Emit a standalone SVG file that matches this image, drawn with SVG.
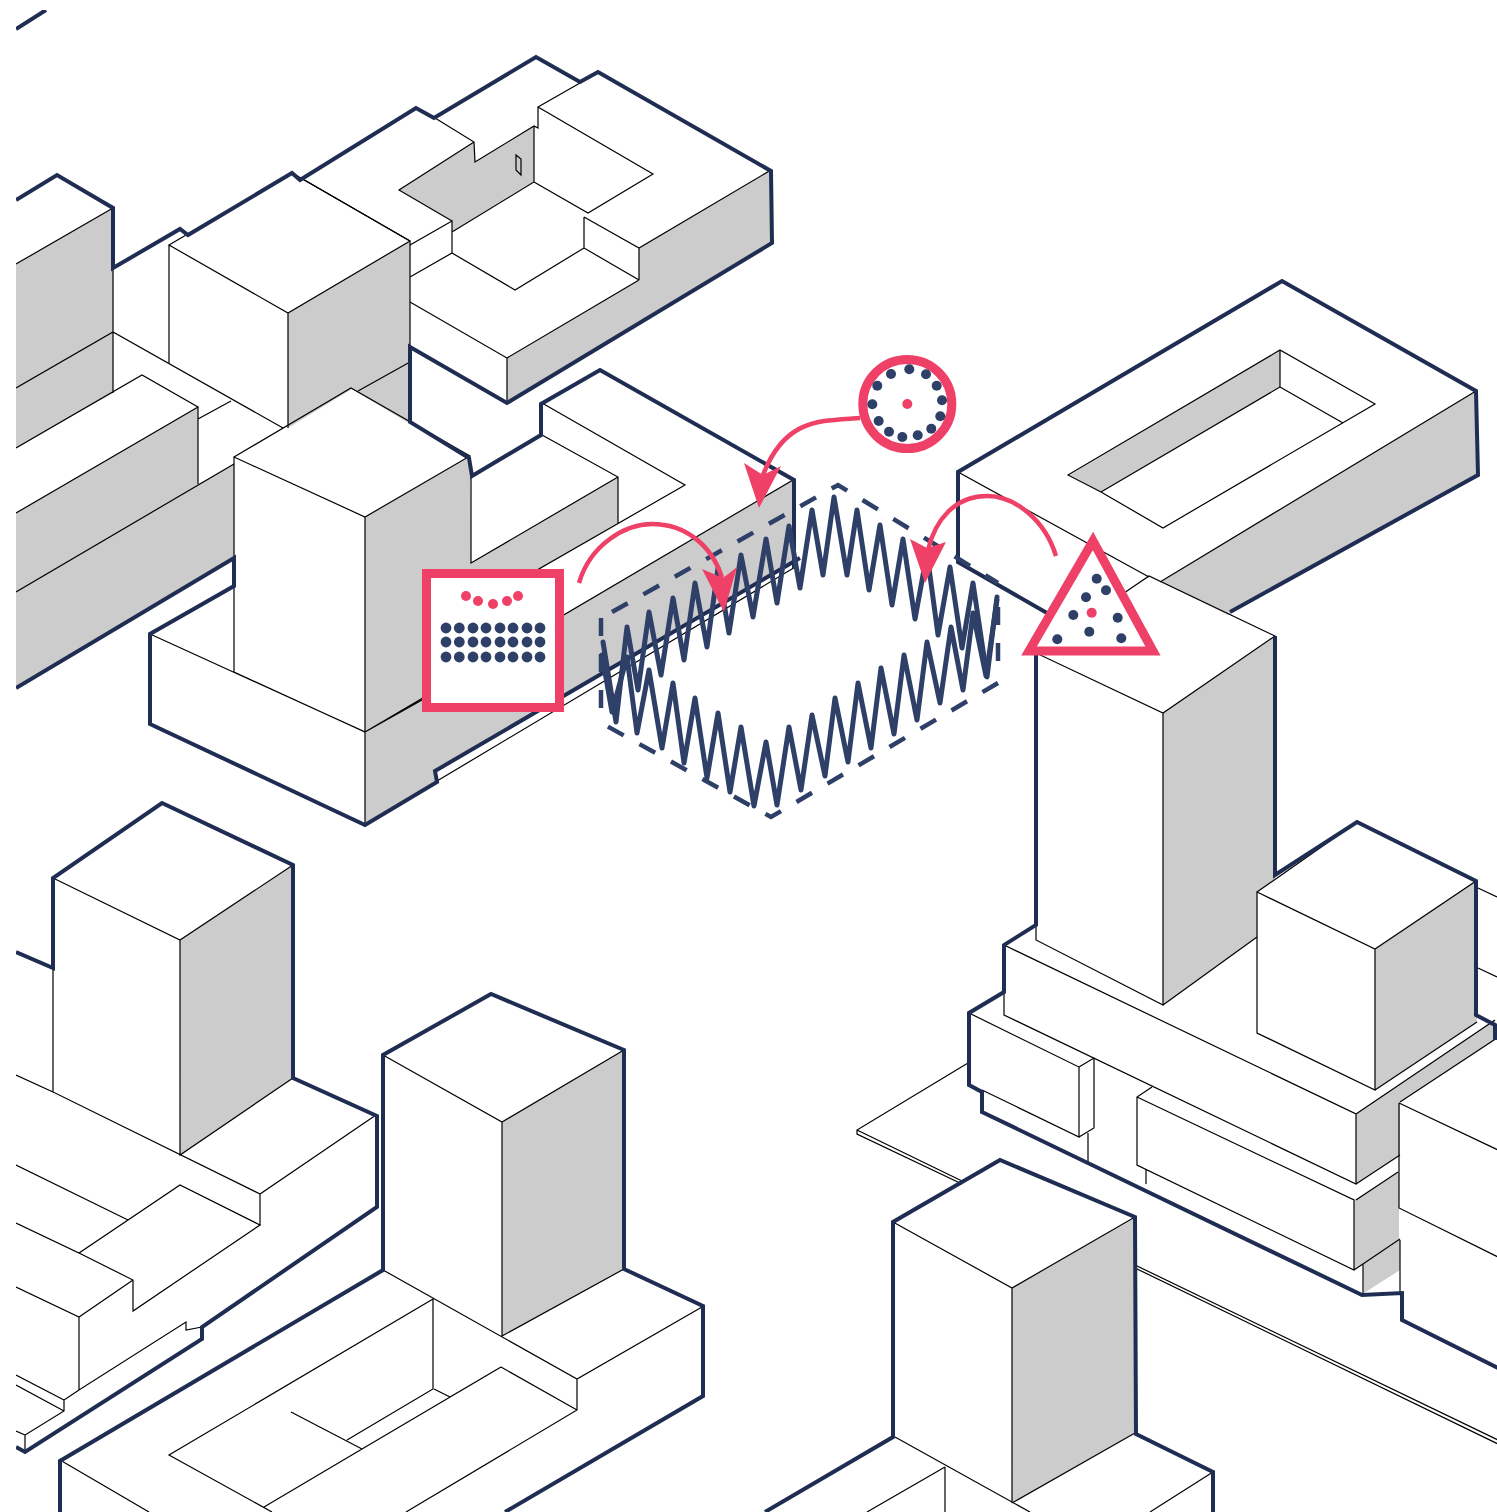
<svg xmlns="http://www.w3.org/2000/svg" width="1497" height="1512" viewBox="0 0 1497 1512">
<style>
.g{fill:#cccccc;stroke:none}
.w{fill:#fff;stroke:none}
.t{fill:none;stroke:#000;stroke-width:1.2;stroke-linejoin:miter}
.n{fill:none;stroke:#1f2d52;stroke-width:4;stroke-linejoin:miter}
.wave{fill:none;stroke:#2e3f68;stroke-width:5;stroke-linejoin:round;stroke-linecap:round}
.dash{fill:none;stroke:#2e3f68;stroke-width:4.5;stroke-dasharray:18 18}
.r{fill:none;stroke:#ef4068;stroke-width:4.5}
.rh{fill:#ef4068;stroke:none}
.ic{fill:#fff;stroke:#ef4068;stroke-width:9;stroke-miterlimit:10}
.d{fill:#2e3f68}
.p{fill:#ef4068}
</style>
<defs><clipPath id="c"><rect x="16" y="10" width="1481" height="1502"/></clipPath></defs>
<rect width="1497" height="1512" fill="#fff"/>
<g id="buildings" clip-path="url(#c)">
<g id="shading">
<polygon class="g" points="16,264 113,208 113,393 16,448"/>
<polygon class="g" points="288,313 410,241 410,424 352,389 288,428"/>
<polygon class="g" points="399,190 474,142 475,162 534,126 534,182 452,232 452,221"/>
<polygon class="g" points="639,248 771,170 772,243 507,403 507,358 639,280"/>
<polygon class="g" points="16,513 198,407 198,484 234,464 234,558 16,688"/>
<polygon class="g" points="365,517 470,457 471,563 618,477 618,523 471,608 471,670 793,480 794,560 435,771 437,782 365,825"/>
<polygon class="g" points="1070,475 1280,350 1280,387 1101,492"/>
<polygon class="g" points="1160,582 1476,391 1478,475 1228,615 1149,576"/>
<polygon class="g" points="1163,713 1275,637 1275,879 1257,892 1257,937 1163,1005"/>
<polygon class="g" points="1375,949 1476,881 1477,1022 1375,1090"/>
<polygon class="g" points="1356,1114 1495,1020 1497,1038 1400,1102 1400,1155 1356,1184"/>
<polygon class="g" points="1354,1200 1399,1172 1399,1240 1354,1270"/>
<polygon class="g" points="1363,1264 1400,1240 1400,1270 1364,1293"/>
<polygon class="g" points="180,940 293,865 293,1078 180,1155"/>
<polygon class="g" points="502,1122 624,1050 624,1269 502,1336"/>
<polygon class="g" points="1012,1288 1135,1218 1135,1433 1012,1503"/>
</g>
<g id="thin-lines">
<path class="t" d="M113,208V393M16,264L113,208M16,388L113,332L283,428M16,448L142,375L198,407L16,513M198,407V484M198,419L231,401M16,592L234,464"/>
<path class="t" d="M169,245L292,173L410,241L288,313ZM288,313V428M169,245V363M410,241V347M358,391L410,362"/>
<path class="t" d="M301,178L410,241M410,245L452,221V253M410,277L452,253L515,290L584,248M410,302L507,358V403M507,358L639,280M639,248V280M584,217V248L639,280M584,217L639,248L771,170M534,126V182L452,232M534,182L588,213L653,174L538,107L580,83M538,107V128L534,126L475,162L474,142L435,118M474,142L399,190L452,221"/>
<polygon class="t" points="516,155 521,159 521,175 516,170"/>
<path class="t" d="M234,457L351,388L470,456L365,517ZM234,457V672L365,732V517M150,634L365,732V825M365,732L422,700M471,476V563L618,477M542,403L685,485L471,608M542,435L618,477V523M793,480L365,732M437,781L797,566"/>
<path class="t" d="M958,472L1149,577M1068,475L1280,350L1375,404L1163,528L1101,492ZM1101,492L1280,387V350M1280,387L1343,423M1476,391L1160,582"/>
<path class="t" d="M1036,653L1149,576L1275,636L1163,713ZM1163,713V1005L1036,940V925M1163,1005L1257,937M1257,892L1357,822L1476,881L1375,949ZM1257,892V1033L1375,1090V949M1375,1090L1477,1022M1478,888L1497,897M1478,968L1497,977"/>
<path class="t" d="M1004,945L1356,1114V1184L1004,1015V945M1356,1114L1495,1020M1497,1038L1400,1102M1400,1155L1356,1184M1356,1200L1398,1172M1152,1087L1137,1097V1165L1354,1270V1200L1137,1097M1354,1270L1400,1239M1146,1170V1184M1363,1264V1294M1400,1240V1293M1399,1103V1208L1498,1257M1399,1103L1498,1150M969,1013L1079,1067V1137L982,1090M1079,1067L1094,1058V1128L1079,1137M1088,1133V1162M968,1063L857,1130V1134L962,1184M857,1130L962,1181M1135,1265L1498,1440M1135,1268L1498,1444"/>
<path class="t" d="M893,1222L1012,1288L1135,1217M1012,1288V1503M895,1437L1030,1512M1135,1433L1012,1503M945,1467V1512M945,1467L867,1512M1213,1472L1150,1512"/>
<path class="t" d="M53,878L180,940L293,865M180,940V1155L293,1078M53,878V1092L260,1194L376,1115M16,1075L53,1092M260,1194V1225L180,1185L79,1253L16,1223M16,1165L128,1220M180,1185L260,1225L133,1311V1280L79,1253M133,1280L79,1317L16,1287M79,1317V1390L186,1322V1330L202,1327M79,1390L64,1400V1411L25,1435V1452M16,1375L64,1400M16,1385L64,1411M16,1431L25,1435"/>
<path class="t" d="M383,1055L502,1122L624,1050M502,1122V1336L624,1269M383,1270L577,1379L702,1307M577,1379V1410L406,1512M501,1367L577,1410M501,1367L450,1397M433,1299V1389L347,1440M433,1299L169,1455L272,1512M264,1507L362,1449L501,1367M291,1412L362,1449M434,1389L450,1397M60,1460L149,1512"/>
</g>
<g id="outlines">
<path class="n" d="M16,29L46,10"/>
<path class="n" d="M16,200L57,175L113,208V268L180,229L188,235L292,173L300,180L416,108L434,118L536,57L580,82L598,72L771,171L772,243L507,403L410,347V422L469,458L472,476L541,435V404L600,370L794,480V568"/>
<path class="n" d="M16,688L234,558V586L150,634V724L365,825L437,782L435,771L800,558"/>
<path class="n" d="M1047,613L958,562V472L1282,281L1476,391L1478,475L1230,612"/>
<path class="n" d="M1036,653V925L1004,945V992L969,1013V1085L982,1092V1112L1362,1295L1402,1293V1320L1498,1368"/>
<path class="n" d="M1275,636V875L1357,822L1476,881V1015L1495,1025V1040"/>
<path class="n" d="M765,1512L893,1437V1222L1000,1160L1135,1217L1136,1434L1213,1472V1512"/>
<path class="n" d="M16,952L53,968V878L162,803L293,865V1078L377,1116V1207L202,1327V1339L25,1452L16,1447"/>
<path class="n" d="M60,1512V1461L383,1270V1055L491,994L624,1050V1269L703,1306V1396L505,1512"/>
</g>
</g>
<g id="zone">
<path class="dash" d="M612,612L838,485L998,583"/>
<path class="dash" d="M998,607V665"/>
<path class="dash" d="M998,683L771,817L605,725"/>
<path class="dash" d="M601,618V708"/>
<polyline class="wave" points="603,642 616,722 627,627 638,690 649,612 661,675 673,598 684,660 695,583 707,647 718,568 729,633 741,555 753,617 766,539 777,603 789,526 800,588 812,510 823,575 834,497 847,575 857,510 869,590 880,525 892,605 903,539 915,619 927,553 938,635 950,567 962,648 973,583 987,677 997,597"/>
<polyline class="wave" points="602,655 612,712 627,657 637,733 649,670 662,748 673,683 684,763 695,698 707,778 718,713 730,792 741,727 754,806 766,742 777,805 789,727 801,790 812,715 825,776 835,698 848,762 858,683 871,748 881,668 894,734 904,655 917,720 927,642 940,703 951,627 963,690 973,613 986,676 997,600"/>
</g>
<g id="connectors">
<path class="r" d="M860,418C820,421 785,418 763,475"/>
<polygon class="rh" points="759,508 744,463 763,475 781,466"/>
<path class="r" d="M579,583C590,545 625,524 652,524C685,524 712,545 722,578"/>
<polygon class="rh" points="724,612 702,569 723,578 737,567"/>
<path class="r" d="M1056,556C1045,520 1015,496 987,496C955,496 935,520 928,550"/>
<polygon class="rh" points="925,583 910,539 927,548 946,542"/>
</g>
<g id="node-square">
<rect class="ic" x="426.5" y="573.5" width="133" height="134"/>
<circle class="p" cx="466" cy="596" r="5"/><circle class="p" cx="478" cy="601" r="5"/><circle class="p" cx="493" cy="604" r="5"/><circle class="p" cx="507" cy="601" r="5"/><circle class="p" cx="518" cy="596" r="5"/>
<g class="d">
<circle cx="446" cy="628" r="5.4"/><circle cx="459.3" cy="628" r="5.4"/><circle cx="473" cy="628" r="5.4"/><circle cx="486" cy="628" r="5.4"/><circle cx="500" cy="628" r="5.4"/><circle cx="513" cy="628" r="5.4"/><circle cx="527" cy="628" r="5.4"/><circle cx="540" cy="628" r="5.4"/>
<circle cx="446" cy="642" r="5.4"/><circle cx="459.3" cy="642" r="5.4"/><circle cx="473" cy="642" r="5.4"/><circle cx="486" cy="642" r="5.4"/><circle cx="500" cy="642" r="5.4"/><circle cx="513" cy="642" r="5.4"/><circle cx="527" cy="642" r="5.4"/><circle cx="540" cy="642" r="5.4"/>
<circle cx="446" cy="657" r="5.4"/><circle cx="459.3" cy="657" r="5.4"/><circle cx="473" cy="657" r="5.4"/><circle cx="486" cy="657" r="5.4"/><circle cx="500" cy="657" r="5.4"/><circle cx="513" cy="657" r="5.4"/><circle cx="527" cy="657" r="5.4"/><circle cx="540" cy="657" r="5.4"/>
</g>
</g>
<g id="node-circle">
<circle class="ic" cx="907.3" cy="404" r="44.5"/>
<circle class="p" cx="907.3" cy="404" r="5"/>
<g class="d">
<circle cx="909.3" cy="369.3" r="5"/><circle cx="926" cy="374.3" r="5"/><circle cx="936.7" cy="385.7" r="5"/><circle cx="942" cy="400.3" r="5"/><circle cx="940.3" cy="416.3" r="5"/><circle cx="931.3" cy="428.7" r="5"/><circle cx="917.7" cy="435.3" r="5"/><circle cx="902.3" cy="437" r="5"/><circle cx="889" cy="431.7" r="5"/><circle cx="878.7" cy="421" r="5"/><circle cx="872.3" cy="404.3" r="5"/><circle cx="877.3" cy="385.7" r="5"/><circle cx="891" cy="374" r="5"/>
</g>
</g>
<g id="node-triangle">
<polygon class="ic" points="1093,541 1153,651 1029,651"/>
<circle class="p" cx="1091.7" cy="612.7" r="5"/>
<g class="d">
<circle cx="1096.7" cy="578.7" r="5"/><circle cx="1106" cy="590.3" r="5"/><circle cx="1086" cy="597.3" r="5"/><circle cx="1073.3" cy="615" r="5"/><circle cx="1117.7" cy="617.7" r="5"/><circle cx="1089.3" cy="631.7" r="5"/><circle cx="1057.3" cy="639.3" r="5"/><circle cx="1121.3" cy="638.3" r="5"/>
</g>
</g>
</svg>
